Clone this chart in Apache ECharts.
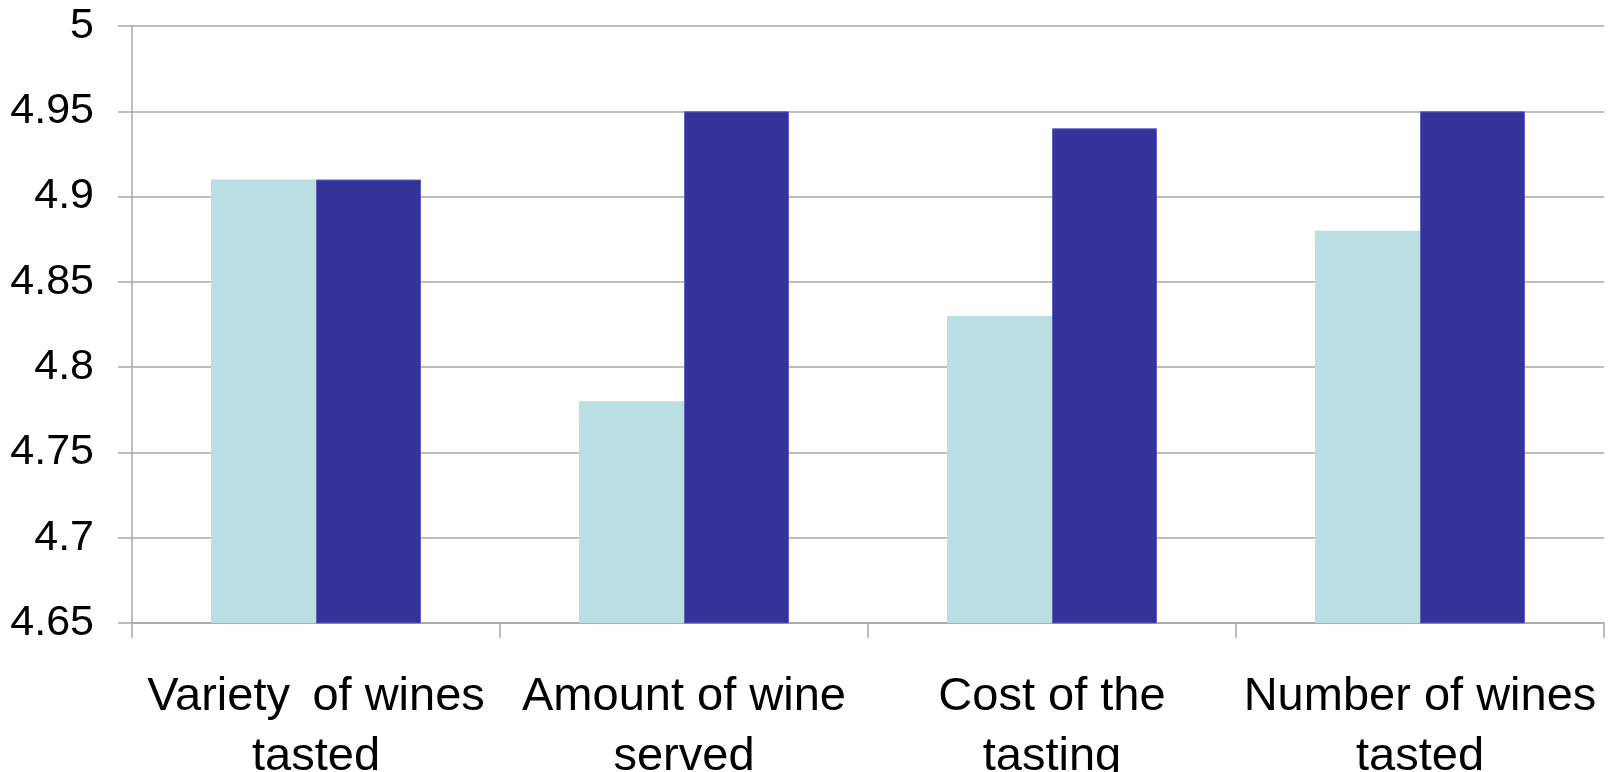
<!DOCTYPE html>
<html>
<head>
<meta charset="utf-8">
<script src="https://cdn.jsdelivr.net/npm/echarts@6/dist/echarts.min.js"></script>
<style>
  html, body { margin: 0; padding: 0; background: #ffffff; }
  #chart { width: 1608px; height: 772px; }
</style>
</head>
<body>
<div id="chart"></div>
<script>
// Wine tasting ratings: two groups compared per aspect
const categories = [
  'Variety \u2009of wines\ntasted',
  'Amount of wine\nserved',
  'Cost of the\ntasting',
  'Number of wines\ntasted'
];
const seriesLight = [4.91, 4.78, 4.83, 4.88];
const seriesDark = [4.91, 4.95, 4.94, 4.95];
const yMin = 4.65;
const yMax = 5;
const yStep = 0.05;

const chart = echarts.init(document.getElementById('chart'), null, { renderer: 'canvas' });
const gridColor = '#a8a8a8';

chart.setOption({
  animation: false,
  backgroundColor: '#ffffff',
  grid: {
    left: 132, right: 4, top: 26, bottom: 149,
    containLabel: false,
    outerBoundsMode: 'none'
  },
  xAxis: {
    type: 'category',
    data: categories,
    axisLine: { show: true, lineStyle: { color: gridColor, width: 1.5 } },
    axisTick: { show: true, length: 15, alignWithLabel: false, lineStyle: { color: gridColor, width: 1.5 } },
    axisLabel: {
      color: '#000000',
      fontFamily: 'Liberation Sans, Arial, sans-serif',
      fontSize: 47,
      lineHeight: 60,
      margin: 44,
      interval: 0
    }
  },
  yAxis: {
    type: 'value',
    min: yMin,
    max: yMax,
    interval: yStep,
    axisLine: { show: true, lineStyle: { color: gridColor, width: 1.5 } },
    axisTick: { show: true, length: 14, lineStyle: { color: gridColor, width: 1.5 } },
    splitLine: { show: true, lineStyle: { color: gridColor, width: 1.5 } },
    axisLabel: {
      color: '#000000',
      fontFamily: 'Liberation Sans, Arial, sans-serif',
      fontSize: 43,
      margin: 38,
      formatter: function (v) { return String(Math.round(v * 100) / 100); }
    }
  },
  series: [
    {
      type: 'bar',
      data: seriesLight,
      barWidth: 105,
      barGap: '0%',
      itemStyle: { color: '#b9dfe3' }
    },
    {
      type: 'bar',
      data: seriesDark,
      barWidth: 105,
      barGap: '0%',
      itemStyle: { color: '#333399', borderColor: '#5f5fc4', borderWidth: 1 }
    }
  ]
});
</script>
</body>
</html>
